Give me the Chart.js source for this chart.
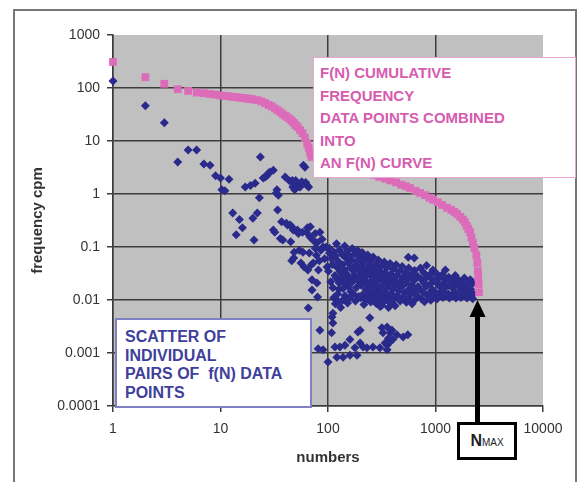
<!DOCTYPE html>
<html>
<head>
<meta charset="utf-8">
<script src="https://cdn.jsdelivr.net/npm/chart.js@4.4.1/dist/chart.umd.min.js"></script>
<style>
  body { margin: 0; background: #fff; }
  #wrap { position: relative; width: 578px; height: 482px; overflow: hidden; background: #fff; }
  #frame { position: absolute; left: 13px; top: 9px; width: 560px; height: 490px; border: 2px solid #777; }
  canvas { position: absolute; left: 0; top: 0; }
  .note { position: absolute; box-sizing: border-box; background: #fff; white-space: nowrap; }
  #pinkNote {
    left: 313px; top: 57px; width: 263px; height: 121px;
    border: 1px solid #e8a6d4; color: #d65cb0;
    font: bold 15px "Liberation Sans", Arial, sans-serif; line-height: 22.5px;
    padding: 4px 0 0 6px;
  }
  #blueNote {
    left: 115px; top: 318px; width: 197px; height: 90px;
    border: 2px solid #8080c4; color: #40409c;
    font: bold 16px "Liberation Sans Narrow", "Liberation Sans", Arial, sans-serif; line-height: 18.7px;
    padding: 8px 0 0 8px;
  }
  #nmax {
    left: 457px; top: 422px; width: 60px; height: 38px;
    border: 3px solid #000; color: #222; text-align: center;
    font: bold 16px "Liberation Sans", Arial, sans-serif; line-height: 32px;
  }
  #nmax span { font-size: 10px; font-weight: normal; }
</style>
</head>
<body>
<div id="wrap">
  <div id="frame"></div>
  <canvas id="chart" width="578" height="482"></canvas>
  <div class="note" id="pinkNote">F(N) CUMULATIVE<br>FREQUENCY<br>DATA POINTS COMBINED<br>INTO<br>AN F(N) CURVE</div>
  <div class="note" id="blueNote">SCATTER OF<br>INDIVIDUAL<br>PAIRS OF &nbsp;f(N) DATA<br>POINTS</div>
  <div class="note" id="nmax">N<span>MAX</span></div>
</div>
<script>
// axis ticks (decades only, like the Excel log axes)
const xTicks = [1, 10, 100, 1000, 10000];
const yTicks = [0.0001, 0.001, 0.01, 0.1, 1, 10, 100, 1000];

// where the NMAX arrow points
const nMax = 2460;
const nMaxTip = 0.01;

// F(N) cumulative frequency curve  [N, F]
const cumulative = [
  [1, 310], [2, 160], [3, 120], [4, 95], [5, 88], [6, 82], [7, 80], [8, 77], [9, 75], [10, 72],
  [11, 71], [12, 70], [13, 68], [14, 67], [15, 66], [16, 65], [17, 64], [18, 63], [19, 62], [20, 61],
  [22, 59], [24, 56], [26, 52], [28, 48], [30, 45], [32, 41], [34, 38], [36, 35], [38, 32], [40, 30],
  [42, 28], [44, 26], [46, 24], [48, 22], [50, 20], [52, 18.5], [55, 16], [58, 14], [61, 11.5], [64, 9],
  [66, 7.5], [68, 6], [70, 5], [80, 4.2], [100, 3.6], [130, 3.2], [170, 2.9], [220, 2.5], [270, 2.3],
  [300, 2.1], [340, 1.95], [380, 1.8], [430, 1.65], [480, 1.5], [530, 1.4], [580, 1.3], [650, 1.15],
  [720, 1.05], [800, 0.95], [880, 0.85], [950, 0.78], [1050, 0.7], [1150, 0.62], [1280, 0.55],
  [1400, 0.5], [1500, 0.46], [1590, 0.42], [1700, 0.37], [1800, 0.33], [1880, 0.29], [1950, 0.25],
  [2020, 0.22], [2100, 0.19], [2160, 0.15], [2230, 0.12], [2300, 0.095], [2400, 0.07], [2450, 0.05],
  [2480, 0.035], [2500, 0.027], [2520, 0.02], [2540, 0.014]
];

// individual f(N) pairs, upper left part
const scatterUpper = [
  [1, 135], [2, 46], [3, 22], [4, 4.0], [5, 6.8], [6, 6.8], [7, 3.7], [8, 3.5], [9, 2.2], [10, 2.0],
  [10.3, 1.2], [11, 1.15], [12, 1.9], [13, 0.44], [14, 0.17], [15, 0.33], [16, 0.23], [17, 1.35], [19, 1.45], [20, 0.35],
  [20.5, 0.135], [21, 1.6], [22, 0.44], [23, 0.85], [23.5, 5.0], [25, 2.0], [26, 2.1], [27, 2.2], [28, 2.5], [29, 2.6],
  [31, 2.8], [31, 0.21], [32, 0.19], [33, 1.05], [33.5, 1.2], [34, 0.5], [34.5, 0.95], [36, 0.145], [37, 0.3], [38, 0.135],
  [40, 2.1], [41, 0.28], [42, 0.26], [44, 1.75], [44.5, 0.26], [45, 0.125], [46, 0.24], [46, 0.055], [46.5, 1.8], [47, 1.35],
  [47.5, 0.21], [48, 0.062], [48.5, 0.08], [49, 1.2], [50, 1.8], [51, 1.6], [52, 0.21], [53, 0.18], [53.5, 1.4], [54, 0.087],
  [55, 1.35], [56, 0.05], [57, 1.7], [58, 0.19], [58.5, 0.08], [59, 3.5], [60, 0.042], [61, 3.2], [62, 1.65], [63, 0.19],
  [64, 1.45], [64.5, 0.23], [65, 0.037], [65.5, 0.0071], [66, 1.35], [67, 0.077], [68, 0.155], [68.5, 0.24], [70, 0.046], [71, 0.024],
  [71, 0.0155], [73, 0.05], [76, 0.18], [78, 0.07], [79, 0.12], [79, 0.021], [80, 0.0114], [81.5, 0.037], [84, 0.19], [86, 0.087],
  [90, 0.1], [96, 0.1], [98, 0.042], [103, 0.077], [74, 0.13], [88, 0.14], [93, 0.06], [83, 0.055], [76, 0.095]
];

// the sparse group near 0.001
const scatterLow = [
  [84, 0.0027], [81, 0.0012], [90, 0.00115], [100, 0.00068], [108, 0.0024], [109, 0.0048], [111, 0.0037], [111, 0.0056],
  [116, 0.0013], [121, 0.00083], [129, 0.0013], [138, 0.00083], [144, 0.0014], [160, 0.0018], [160, 0.00091], [178, 0.00126],
  [186, 0.00091], [190, 0.0025], [199, 0.00155], [199, 0.0027], [212, 0.0013], [230, 0.00126], [245, 0.0046], [262, 0.0013],
  [304, 0.00126], [317, 0.003], [325, 0.0024], [340, 0.00155], [355, 0.0014], [355, 0.00115], [355, 0.0031], [365, 0.0019],
  [375, 0.0016], [380, 0.0024], [394, 0.0027], [400, 0.0018], [437, 0.0022], [500, 0.002], [553, 0.0022]
];

// the dense band between 0.005 and 0.1
const scatterBand = [
  [103, 0.095], [108, 0.06], [101, 0.035], [106, 0.022], [114, 0.08], [110, 0.047], [116, 0.029], [111, 0.017], [113, 0.011],
  [120, 0.115], [117, 0.068], [122, 0.041], [119, 0.026], [117, 0.0085], [124, 0.0095], [126, 0.016],
  [128, 0.088], [124, 0.054], [130, 0.034], [127, 0.021], [123, 0.013], [131, 0.0072],
  [135, 0.072], [137, 0.046], [133, 0.027], [138, 0.0165], [136, 0.0098], [141, 0.021],
  [143, 0.104], [146, 0.063], [142, 0.037], [147, 0.024], [144, 0.012],
  [151, 0.083], [153, 0.051], [149, 0.031], [155, 0.018], [152, 0.0088],
  [158, 0.068], [161, 0.041], [157, 0.025], [163, 0.0145], [160, 0.0112],
  [168, 0.094], [166, 0.057], [171, 0.036], [169, 0.022], [172, 0.013], [174, 0.028],
  [178, 0.074], [182, 0.046], [177, 0.03], [183, 0.017], [180, 0.0096],
  [189, 0.086], [187, 0.054], [192, 0.039], [190, 0.023], [193, 0.0117], [196, 0.036],
  [199, 0.064], [203, 0.043], [198, 0.027], [204, 0.019], [201, 0.011],
  [208, 0.079], [212, 0.051], [209, 0.032], [214, 0.021], [210, 0.0126], [216, 0.0082],
  [221, 0.061], [225, 0.038], [219, 0.024], [226, 0.0158], [223, 0.0101],
  [234, 0.071], [238, 0.044], [233, 0.03], [240, 0.019], [236, 0.012],
  [248, 0.054], [252, 0.035], [247, 0.022], [254, 0.0142], [250, 0.0092],
  [263, 0.065], [267, 0.04], [261, 0.027], [270, 0.0168], [265, 0.011],
  [279, 0.047], [283, 0.031], [277, 0.0205], [285, 0.0128], [281, 0.0086],
  [294, 0.057], [298, 0.036], [292, 0.024], [301, 0.0152], [296, 0.0101], [305, 0.0075],
  [314, 0.044], [318, 0.028], [311, 0.018], [321, 0.0118], [316, 0.0079],
  [334, 0.052], [338, 0.033], [331, 0.022], [341, 0.0142], [336, 0.0096],
  [353, 0.041], [358, 0.026], [350, 0.017], [362, 0.0112], [366, 0.0072],
  [378, 0.049], [384, 0.031], [374, 0.0205], [388, 0.0131], [381, 0.0088],
  [404, 0.038], [409, 0.024], [398, 0.0158], [412, 0.0106], [421, 0.0078],
  [430, 0.046], [436, 0.029], [427, 0.019], [441, 0.012],
  [460, 0.035], [466, 0.022], [456, 0.0148], [470, 0.0096],
  [490, 0.043], [497, 0.027], [486, 0.018], [502, 0.0116],
  [525, 0.033], [531, 0.021], [519, 0.0138], [536, 0.0091],
  [558, 0.064], [563, 0.04], [552, 0.025], [568, 0.016], [560, 0.0106],
  [594, 0.03], [601, 0.019], [588, 0.0128], [606, 0.0085],
  [634, 0.062], [639, 0.036], [628, 0.023], [645, 0.0149], [633, 0.0098],
  [680, 0.028], [688, 0.018], [673, 0.012],
  [724, 0.04], [731, 0.025], [717, 0.0158], [738, 0.0106],
  [775, 0.033], [783, 0.021], [766, 0.014], [790, 0.0093],
  [826, 0.045], [834, 0.027], [818, 0.018], [842, 0.0121],
  [886, 0.03], [894, 0.02], [877, 0.0134], [903, 0.0099],
  [946, 0.037], [955, 0.024], [937, 0.0158], [963, 0.0111],
  [1015, 0.032], [1024, 0.021], [1006, 0.0139], [1032, 0.0104],
  [1086, 0.026], [1095, 0.018], [1077, 0.0121],
  [1156, 0.03], [1166, 0.02], [1146, 0.0148], [1174, 0.0111],
  [1236, 0.037], [1247, 0.024], [1226, 0.017], [1256, 0.0124],
  [1326, 0.027], [1338, 0.019], [1315, 0.0131], [1346, 0.0109],
  [1426, 0.024], [1438, 0.017], [1414, 0.012],
  [1526, 0.029], [1539, 0.02], [1513, 0.0141], [1548, 0.0109],
  [1626, 0.024], [1640, 0.018], [1613, 0.0121],
  [1736, 0.021], [1750, 0.015], [1722, 0.0111],
  [1856, 0.026], [1871, 0.018], [1841, 0.0126],
  [1976, 0.02], [1992, 0.014], [1961, 0.0109],
  [2106, 0.024], [2122, 0.016], [2090, 0.0119],
  [2236, 0.021], [2252, 0.013], [2219, 0.0106]
];

const pink = '#dc6cba';
const blue = '#2a2a8c';
const gridColor = '#3c3c3c';
const fontFamily = '"Liberation Sans", Arial, sans-serif';

const toPoints = rows => rows.map(([n, f]) => ({ x: n, y: f }));

const plotBg = {
  id: 'plotBg',
  beforeDraw(chart) {
    const { ctx, chartArea: a } = chart;
    ctx.save();
    ctx.fillStyle = '#c0c0c0';
    ctx.fillRect(a.left, a.top, a.width, a.height);
    ctx.restore();
  }
};

// thick black arrow from the NMAX box up to the end of the F(N) curve
const nmaxArrow = {
  id: 'nmaxArrow',
  afterDraw(chart) {
    const { ctx, scales } = chart;
    const x = scales.x.getPixelForValue(nMax);
    const yTip = scales.y.getPixelForValue(nMaxTip);
    ctx.save();
    ctx.strokeStyle = '#000';
    ctx.fillStyle = '#000';
    ctx.lineWidth = 5;
    ctx.beginPath();
    ctx.moveTo(x, 424);
    ctx.lineTo(x, yTip + 12);
    ctx.stroke();
    ctx.beginPath();
    ctx.moveTo(x, yTip);
    ctx.lineTo(x - 8, yTip + 17);
    ctx.lineTo(x + 8, yTip + 17);
    ctx.closePath();
    ctx.fill();
    ctx.restore();
  }
};

const hideLast = (max) => (c) => (c.tick && c.tick.value === max ? 'rgba(0,0,0,0)' : gridColor);

new Chart(document.getElementById('chart'), {
  type: 'scatter',
  data: {
    datasets: [
      {
        label: 'F(N)',
        data: toPoints(cumulative),
        pointStyle: 'rect',
        pointRadius: 5.5,
        backgroundColor: pink,
        borderColor: pink,
        borderWidth: 0,
        clip: false
      },
      {
        label: 'f(N)',
        data: toPoints(scatterUpper.concat(scatterLow, scatterBand)),
        pointStyle: 'rectRot',
        pointRadius: 4.5,
        backgroundColor: blue,
        borderColor: blue,
        borderWidth: 0,
        clip: false
      }
    ]
  },
  options: {
    responsive: false,
    devicePixelRatio: 1,
    animation: false,
    events: [],
    layout: { padding: { left: 14, right: 35, top: 35, bottom: 12 } },
    plugins: {
      legend: { display: false },
      tooltip: { enabled: false }
    },
    scales: {
      x: {
        type: 'logarithmic',
        min: 1,
        max: 10000,
        afterBuildTicks: s => { s.ticks = xTicks.map(v => ({ value: v })); },
        afterFit: s => { s.height = 64; },
        ticks: {
          autoSkip: false,
          maxRotation: 0,
          padding: 9,
          color: '#333',
          font: { family: fontFamily, size: 14 },
          callback: v => String(v)
        },
        grid: { color: hideLast(10000), lineWidth: 1.5, tickLength: 6, tickColor: gridColor },
        border: { color: gridColor, width: 1.5 },
        title: {
          display: true,
          text: 'numbers',
          color: '#333',
          font: { family: fontFamily, size: 15, weight: 'bold' },
          padding: { top: 0, bottom: 3 }
        }
      },
      y: {
        type: 'logarithmic',
        min: 0.0001,
        max: 1000,
        afterBuildTicks: s => { s.ticks = yTicks.map(v => ({ value: v })); },
        afterFit: s => { s.width = 99; },
        ticks: {
          autoSkip: false,
          padding: 7,
          color: '#333',
          font: { family: fontFamily, size: 14 },
          callback: v => String(v)
        },
        grid: { color: hideLast(1000), lineWidth: 1.5, tickLength: 6, tickColor: gridColor },
        border: { color: gridColor, width: 1.5 },
        title: {
          display: true,
          text: 'frequency cpm',
          color: '#333',
          font: { family: fontFamily, size: 15, weight: 'bold' },
          padding: { top: 15, bottom: 0 }
        }
      }
    }
  },
  plugins: [plotBg, nmaxArrow]
});
</script>
</body>
</html>
